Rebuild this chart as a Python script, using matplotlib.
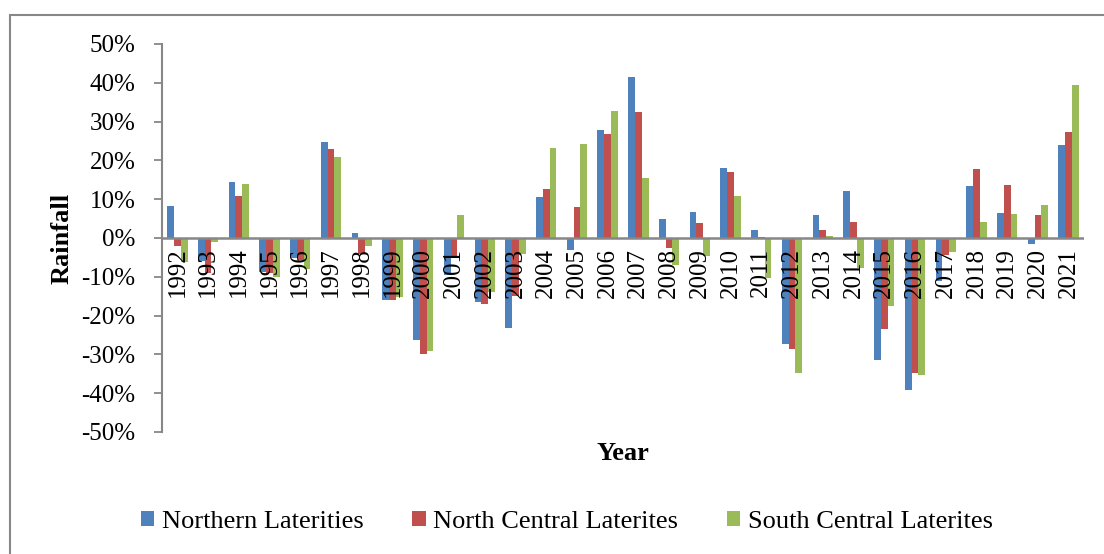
import matplotlib
matplotlib.use("Agg")
import matplotlib.pyplot as plt
from matplotlib.patches import Rectangle
from matplotlib.ticker import PercentFormatter
import numpy as np

years = [str(y) for y in range(1992, 2022)]

northern = [8.2, -5.9, 14.4, -8.7, -5.2, 24.7, 1.3, -16.0, -26.3, -9.5,
            -16.6, -23.3, 10.6, -3.1, 27.8, 41.6, 4.9, 6.8, 18.1, 2.1,
            -27.3, 5.9, 12.0, -31.4, -39.3, -11.2, 13.4, 6.5, -1.5, 23.9]
north_central = [-2.1, -9.1, 10.9, -9.1, -5.7, 22.9, -4.1, -16.0, -30.0, -5.1,
                 -17.1, -15.0, 12.6, 7.9, 26.8, 32.5, -2.7, 3.9, 17.0, 0.3,
                 -28.6, 2.0, 4.1, -23.5, -34.8, -4.4, 17.7, 13.6, 5.8, 27.4]
south_central = [-6.1, -1.0, 13.9, -10.1, -8.1, 20.9, -2.1, -15.1, -29.1, 5.9,
                 -14.0, -4.1, 23.2, 24.1, 32.7, 15.5, -7.0, -4.6, 10.9, -10.3,
                 -34.8, 0.6, -7.7, -17.5, -35.3, -3.7, 4.0, 6.2, 8.5, 39.4]

series_names = ["Northern Laterities", "North Central Laterites", "South Central Laterites"]
colors = ["#4F81BD", "#C0504D", "#9BBB59"]

plt.rcParams["font.family"] = ["Liberation Serif", "DejaVu Serif"]
plt.rcParams["axes.unicode_minus"] = False

W, H = 1104, 554
fig = plt.figure(figsize=(W / 100, H / 100), dpi=100)

# outer chart frame
fig.patches.append(Rectangle((10 / W, -0.1), 1.2, (H - 15) / H + 0.1,
                             transform=fig.transFigure, fill=False,
                             edgecolor="#878787", linewidth=1.5))

ax = fig.add_axes([162 / W, 1 - 432 / H, (1084 - 162) / W, (432 - 44) / H])

x = np.arange(len(years))
bw = 0.22
for k, (vals, c, name) in enumerate(zip([northern, north_central, south_central], colors, series_names)):
    ax.bar(x + (k - 1) * bw, vals, width=bw, color=c, label=name, zorder=2)

ax.set_xlim(-0.5, len(years) - 0.5)
ax.set_ylim(-50, 50)
ax.set_yticks(np.arange(-50, 51, 10))
ax.yaxis.set_major_formatter(PercentFormatter(decimals=0))
ax.tick_params(axis="y", direction="out", length=6, width=1.3, color="#878787",
               labelsize=18, pad=13)
ax.set_xticks([])

for s in ["top", "right", "bottom"]:
    ax.spines[s].set_visible(False)
ax.spines["left"].set_color("#878787")
ax.spines["left"].set_linewidth(1.5)
ax.axhline(0, color="#878787", linewidth=1.8, zorder=3)

# year labels hanging below the zero line
for xi, yr in zip(x, years):
    ax.annotate(yr, xy=(xi, 0), xytext=(0, -7), textcoords="offset points",
                rotation=90, ha="center", va="top", fontsize=18, zorder=4)

fig.text(62 / W, 1 - 238 / H, "Rainfall", rotation=90, ha="center", va="center",
         fontsize=19, fontweight="bold")
fig.text(623 / W, 1 - 453 / H, "Year", ha="center", va="center",
         fontsize=19, fontweight="bold")

fig.legend(loc="center", bbox_to_anchor=(567 / W, 1 - 522 / H), ncol=3,
           frameon=False, fontsize=19, handlelength=0.5, handleheight=0.5,
           handletextpad=0.3, columnspacing=1.85, borderaxespad=0)

fig.savefig("out.png", dpi=100)
